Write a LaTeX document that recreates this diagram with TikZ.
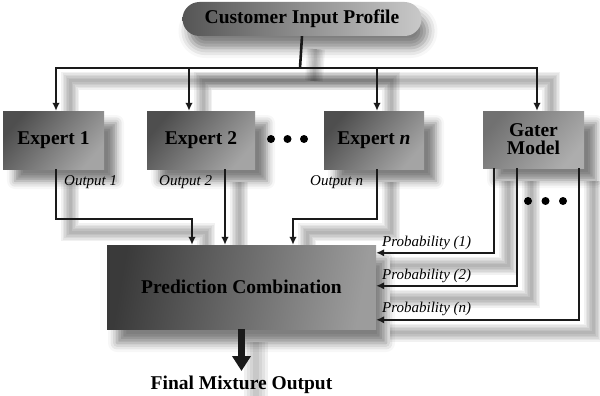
\documentclass[tikz,border=0pt]{standalone}
\usepackage{fontspec}
\setmainfont{Liberation Serif}
\usetikzlibrary{arrows.meta,shadows.blur,backgrounds}
\definecolor{linec}{HTML}{1A1A1A}
\definecolor{boxdark}{HTML}{4E4E4E}
\definecolor{boxlight}{HTML}{A4A4A4}
\definecolor{pcdark}{HTML}{3A3A3A}
\definecolor{pclight}{HTML}{9C9C9C}
\definecolor{pilldark}{HTML}{555555}
\definecolor{pilllight}{HTML}{C9C9C9}
\newcommand\bigfont{\fontsize{19.5}{21}\selectfont\bfseries}
\newcommand\labfont{\fontsize{15}{17}\selectfont\itshape}
\newcommand\allconn[2]{%
  \draw[#1] (cip.south) -- (j);
  \draw[#2] (j) -| ([xshift=2.5pt]e1.north);
  \draw[#2] (j) -| ([xshift=-12pt]e2.north);
  \draw[#2] (j) -| ([xshift=3pt]en.north);
  \draw[#2] (j) -| ([xshift=3.5pt]gm.north);
  \draw[#2] ([xshift=2.5pt]e1.south) |- (b1) -- ([xshift=-49.5pt]pc.north);
  \draw[#2] ([xshift=24pt]e2.south) -- ([xshift=-16.5pt]pc.north);
  \draw[#2] ([xshift=3pt]en.south) |- (b2) -- ([xshift=51.5pt]pc.north);
  \draw[#2] ([xshift=-39.5pt]gm.south) |- ([yshift=-8pt]pc.north east);
  \draw[#2] ([xshift=-16.5pt]gm.south) |- ([yshift=-41pt]pc.north east);
  \draw[#2] ([xshift=45.5pt]gm.south) |- ([yshift=-75pt]pc.north east);
}
\tikzset{
  conn/.style={draw=linec, line width=2.6pt},
  tip/.style={conn, -{Latex[length=8pt,width=7.5pt]}},
  shl/.style={draw=black, line width=#1, opacity=0.055},
  boxsh/.style={blur shadow={shadow xshift=12pt, shadow yshift=-12pt,
      shadow blur radius=8pt, shadow opacity=50}},
  ebox/.style={rectangle, inner sep=0pt, font=\bigfont, text=black,
      top color=boxdark, bottom color=boxlight, shading angle=50, boxsh},
  dot/.style={fill=black, circle, inner sep=0pt, minimum size=8pt},
  lab/.style={font=\labfont, text=black, inner sep=0pt, anchor=west},
}
\begin{document}
\begin{tikzpicture}[x=1pt,y=-1pt]
\useasboundingbox (0,0) rectangle (600,396);
% nodes
\node[rectangle, rounded corners=17pt, minimum width=239pt, minimum height=34pt,
  inner sep=0pt, font=\bigfont, text=black,
  left color=pilldark, right color=pilllight,
  blur shadow={shadow xshift=6pt, shadow yshift=-12pt, shadow blur radius=10pt, shadow opacity=50}]
  (cip) at (302,19) {Customer Input Profile};
\coordinate (j) at (300,68);
\coordinate (b1) at (192,219);
\coordinate (b2) at (293,219);
\coordinate (fa) at (241.5,371);
\node[ebox, minimum width=101pt, minimum height=58pt] (e1) at (53.5,140) {Expert 1};
\node[ebox, minimum width=108pt, minimum height=58pt] (e2) at (201,140) {Expert 2};
\node[ebox, minimum width=100pt, minimum height=58pt] (en) at (374,140) {Expert \textit{n}};
\node[ebox, minimum width=101pt, minimum height=57pt, align=center,
  top color=boxdark!80!white, bottom color=boxlight!90!white, shading angle=50]
  (gm) at (533.5,139.5) {Gater\\[-3pt]Model};
\node[rectangle, inner sep=0pt, minimum width=269pt, minimum height=84pt,
  font=\bigfont, text=black, left color=pcdark, right color=pclight, shading angle=80,
  blur shadow={shadow xshift=10pt, shadow yshift=-14pt, shadow blur radius=9pt, shadow opacity=50}]
  (pc) at (241.5,287) {Prediction Combination};
\node[font=\bigfont, text=black, inner sep=0pt, anchor=north] (fmo) at (241.5,376) {Final Mixture Output};
% connector shadows (soft, offset down-right)
\begin{scope}[on background layer]
\begin{scope}[transform canvas={xshift=14pt,yshift=-13pt}]
  \foreach \w in {18,15,12,9,6,3} {
    \allconn{shl=\w pt}{shl=\w pt}
  }
  \foreach \w in {24,18,12,6} {
    \draw[shl=\w pt, opacity=0.06] (pc.south) -- ([yshift=-14pt]fa);
  }
\end{scope}
\end{scope}
% dots
\node[dot] (d1) at (271,139) {};
\node[dot] (d2) at (287.5,139) {};
\node[dot] (d3) at (304,139) {};
\node[dot] (d4) at (528,201) {};
\node[dot] (d5) at (545.5,201) {};
\node[dot] (d6) at (563,201) {};
% connectors
\allconn{conn}{tip}
\draw[draw=linec, line width=7pt, -{Triangle[length=15pt,width=18pt]}] (pc.south) -- (fa);
% labels
\node[lab] (l1) at (64,182) {Output 1};
\node[lab] (l2) at (159,182) {Output 2};
\node[lab] (l3) at (310,182) {Output \textit{n}};
\node[lab] (p1) at (382,243) {Probability (1)};
\node[lab] (p2) at (382,276) {Probability (2)};
\node[lab] (p3) at (382,309) {Probability (\textit{n})};
\end{tikzpicture}
\end{document}
